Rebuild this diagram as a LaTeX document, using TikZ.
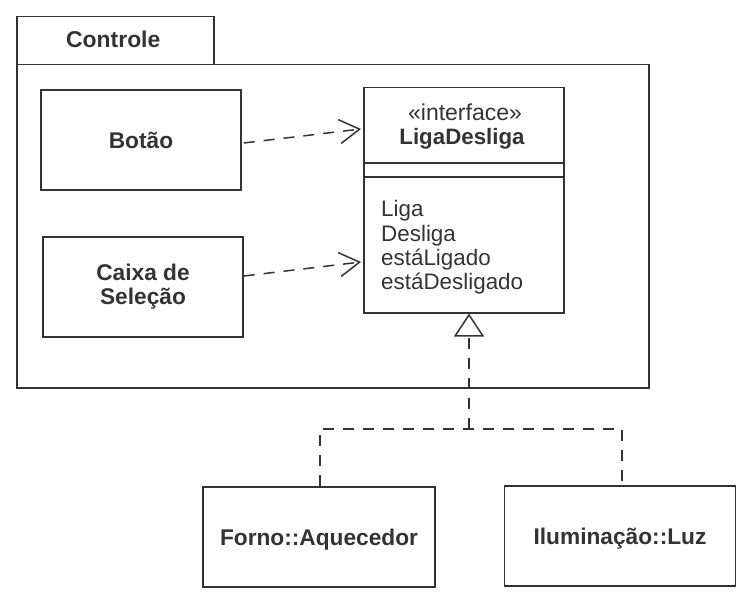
\documentclass[tikz,border=0pt]{standalone}
\usepackage{fontspec}
\setmainfont{Liberation Sans}
\usetikzlibrary{arrows.meta,calc}
\definecolor{ink}{HTML}{333333}
\tikzset{
  frame/.style={draw=ink, line width=1.5pt, inner sep=0pt},
  boxbase/.style={frame, minimum width=200pt, minimum height=100pt, align=center, font=\fontsize{22.7}{24}\selectfont\bfseries, text=ink},
  box/.style={boxbase, text height=16.3pt, text depth=0pt},
  dep/.style={draw=ink, line width=1.5pt, dash pattern=on 11pt off 9pt, -{Straight Barb[length=20pt,width=24pt,line width=1.5pt]}},
  real/.style={draw=ink, line width=1.5pt, dash pattern=on 11pt off 9pt},
  lbl/.style={text=ink, inner sep=0pt, anchor=base},
  op/.style={text=ink, inner sep=0pt, anchor=base west, font=\fontsize{22.4}{24}\selectfont}
}
\begin{document}
\begin{tikzpicture}[x=1pt,y=-1pt]
\useasboundingbox (0,0) rectangle (752,599);
% package
\node[frame, minimum width=197pt, minimum height=48pt, anchor=north west] (tab) at (16,16) {};
\node[lbl, anchor=base west, font=\fontsize{22.9}{24}\selectfont\bfseries] (tabtxt) at (66,48) {Controle};
\node[frame, minimum width=632pt, minimum height=323pt, anchor=north west] (pkg) at (16,64) {};
% classes
\node[box] (botao) at (141,140) {Botão};
\node[boxbase] (caixa) at (143,287) {Caixa de\\Seleção};
\node[frame, minimum width=200pt, minimum height=225pt, anchor=north west] (iface) at (363,87) {};
\draw[ink, line width=1.5pt] ($(iface.north west)+(0,76)$) -- ($(iface.north east)+(0,76)$);
\draw[ink, line width=1.5pt] ($(iface.north west)+(0,90)$) -- ($(iface.north east)+(0,90)$);
\node[lbl, font=\fontsize{23}{24}\selectfont] (stereo) at (465,121) {«interface»};
\node[lbl, font=\fontsize{22.3}{24}\selectfont\bfseries] (iname) at (462,144) {LigaDesliga};
\node[op] (op1) at (381,216) {Liga};
\node[op] (op2) at (381,241) {Desliga};
\node[op] (op3) at (381,265) {estáLigado};
\node[op] (op4) at (381,289) {estáDesligado};
\node[box, minimum width=232pt] (forno) at (319,537) {Forno::Aquecedor};
\node[box, minimum width=231pt] (ilum) at (620,536) {Iluminação::Luz};
% dependencies
\draw[dep] ($(botao.east)+(2,3)$) -- ($(iface.north west)+(-2,42)$);
\draw[dep] ($(caixa.east)+(0,-11)$) -- ($(iface.north west)+(-2,175)$);
% realization
\coordinate (j) at (469,429);
\draw[real] (forno.north -| 320,0) |- (j) -| (ilum.north -| 622,0);
\draw[real, -{Triangle[open, length=23pt, width=30pt, line width=1.5pt]}] (j) -- (iface.south -| j);
\end{tikzpicture}
\end{document}
